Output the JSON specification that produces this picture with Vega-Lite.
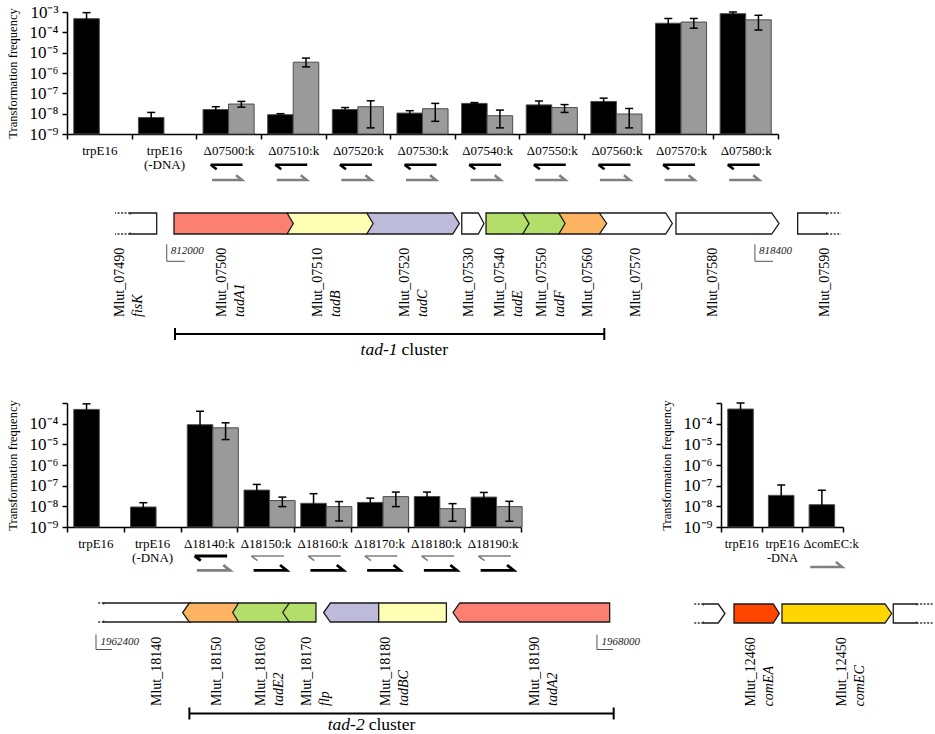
{
  "$schema": "https://vega.github.io/schema/vega-lite/v6.json",
  "background": "white",
  "padding": {"left": 6, "top": 3, "right": 0, "bottom": 0},
  "config": {
    "view": {"stroke": null},
    "font": "Liberation Serif",
    "axis": {"domainColor": "#000000", "tickColor": "#000000", "labelColor": "#000000", "titleColor": "#000000", "domainWidth": 1.5, "tickWidth": 1.5, "grid": false, "labelFont": "Liberation Serif", "titleFont": "Liberation Serif", "titleFontWeight": "normal"},
    "text": {"font": "Liberation Serif", "color": "#000000"}
  },
  "datasets": {
    "tad1Bars": [
      {"strain": "trpE16", "series": "A", "freq": 4.7e-4, "lo": 2.5e-4, "hi": 9.3e-4},
      {"strain": "trpE16|(-DNA)", "series": "A", "freq": 6.5e-9, "lo": 4e-9, "hi": 1.15e-8},
      {"strain": "Δ07500:k", "series": "A", "freq": 1.6e-8, "lo": 1.2e-8, "hi": 2.2e-8},
      {"strain": "Δ07500:k", "series": "B", "freq": 2.97e-8, "lo": 2.1e-8, "hi": 4.0e-8},
      {"strain": "Δ07510:k", "series": "A", "freq": 8.9e-9, "lo": 8e-9, "hi": 1.0e-8},
      {"strain": "Δ07510:k", "series": "B", "freq": 3.4e-6, "lo": 2.0e-6, "hi": 5.4e-6},
      {"strain": "Δ07520:k", "series": "A", "freq": 1.6e-8, "lo": 1.2e-8, "hi": 2.0e-8},
      {"strain": "Δ07520:k", "series": "B", "freq": 2.2e-8, "lo": 2.0e-9, "hi": 4.3e-8},
      {"strain": "Δ07530:k", "series": "A", "freq": 1.07e-8, "lo": 8e-9, "hi": 1.4e-8},
      {"strain": "Δ07530:k", "series": "B", "freq": 1.75e-8, "lo": 4.2e-9, "hi": 3.2e-8},
      {"strain": "Δ07540:k", "series": "A", "freq": 3.2e-8, "lo": 2.9e-8, "hi": 3.5e-8},
      {"strain": "Δ07540:k", "series": "B", "freq": 7.9e-9, "lo": 2.0e-9, "hi": 1.5e-8},
      {"strain": "Δ07550:k", "series": "A", "freq": 2.7e-8, "lo": 1.8e-8, "hi": 4.2e-8},
      {"strain": "Δ07550:k", "series": "B", "freq": 2.0e-8, "lo": 1.15e-8, "hi": 2.8e-8},
      {"strain": "Δ07560:k", "series": "A", "freq": 4.0e-8, "lo": 2.8e-8, "hi": 5.8e-8},
      {"strain": "Δ07560:k", "series": "B", "freq": 9.6e-9, "lo": 2.0e-9, "hi": 1.8e-8},
      {"strain": "Δ07570:k", "series": "A", "freq": 2.8e-4, "lo": 1.6e-4, "hi": 4.8e-4},
      {"strain": "Δ07570:k", "series": "B", "freq": 3.2e-4, "lo": 1.6e-4, "hi": 4.8e-4},
      {"strain": "Δ07580:k", "series": "A", "freq": 8.3e-4, "lo": 6.9e-4, "hi": 1.0e-3},
      {"strain": "Δ07580:k", "series": "B", "freq": 4.1e-4, "lo": 1.3e-4, "hi": 6.9e-4}
    ],
    "tad1Primers": [
      {"strain": "Δ07500:k", "primer": "up", "tone": "dark"}, {"strain": "Δ07500:k", "primer": "down", "tone": "light"},
      {"strain": "Δ07510:k", "primer": "up", "tone": "dark"}, {"strain": "Δ07510:k", "primer": "down", "tone": "light"},
      {"strain": "Δ07520:k", "primer": "up", "tone": "dark"}, {"strain": "Δ07520:k", "primer": "down", "tone": "light"},
      {"strain": "Δ07530:k", "primer": "up", "tone": "dark"}, {"strain": "Δ07530:k", "primer": "down", "tone": "light"},
      {"strain": "Δ07540:k", "primer": "up", "tone": "dark"}, {"strain": "Δ07540:k", "primer": "down", "tone": "light"},
      {"strain": "Δ07550:k", "primer": "up", "tone": "dark"}, {"strain": "Δ07550:k", "primer": "down", "tone": "light"},
      {"strain": "Δ07560:k", "primer": "up", "tone": "dark"}, {"strain": "Δ07560:k", "primer": "down", "tone": "light"},
      {"strain": "Δ07570:k", "primer": "up", "tone": "dark"}, {"strain": "Δ07570:k", "primer": "down", "tone": "light"},
      {"strain": "Δ07580:k", "primer": "up", "tone": "dark"}, {"strain": "Δ07580:k", "primer": "down", "tone": "light"}
    ],
    "tad2Bars": [
      {"strain": "trpE16", "series": "A", "freq": 4.9e-4, "lo": 2.6e-4, "hi": 9.1e-4},
      {"strain": "trpE16|(-DNA)", "series": "A", "freq": 9.3e-9, "lo": 6e-9, "hi": 1.5e-8},
      {"strain": "Δ18140:k", "series": "A", "freq": 8.9e-5, "lo": 2e-5, "hi": 4.0e-4},
      {"strain": "Δ18140:k", "series": "B", "freq": 6.3e-5, "lo": 1.7e-5, "hi": 1.1e-4},
      {"strain": "Δ18150:k", "series": "A", "freq": 6.1e-8, "lo": 3e-8, "hi": 1.15e-7},
      {"strain": "Δ18150:k", "series": "B", "freq": 1.9e-8, "lo": 9.7e-9, "hi": 2.8e-8},
      {"strain": "Δ18160:k", "series": "A", "freq": 1.4e-8, "lo": 5e-9, "hi": 4.1e-8},
      {"strain": "Δ18160:k", "series": "B", "freq": 9.7e-9, "lo": 1.95e-9, "hi": 1.7e-8},
      {"strain": "Δ18170:k", "series": "A", "freq": 1.55e-8, "lo": 1e-8, "hi": 2.5e-8},
      {"strain": "Δ18170:k", "series": "B", "freq": 2.95e-8, "lo": 9.7e-9, "hi": 4.9e-8},
      {"strain": "Δ18180:k", "series": "A", "freq": 3.0e-8, "lo": 2e-8, "hi": 4.9e-8},
      {"strain": "Δ18180:k", "series": "B", "freq": 7.7e-9, "lo": 1.9e-9, "hi": 1.35e-8},
      {"strain": "Δ18190:k", "series": "A", "freq": 2.8e-8, "lo": 1.8e-8, "hi": 4.7e-8},
      {"strain": "Δ18190:k", "series": "B", "freq": 9.7e-9, "lo": 1.9e-9, "hi": 1.75e-8}
    ],
    "tad2Primers": [
      {"strain": "Δ18140:k", "primer": "up", "tone": "dark"}, {"strain": "Δ18140:k", "primer": "down", "tone": "light"},
      {"strain": "Δ18150:k", "primer": "up", "tone": "light"}, {"strain": "Δ18150:k", "primer": "down", "tone": "dark"},
      {"strain": "Δ18160:k", "primer": "up", "tone": "light"}, {"strain": "Δ18160:k", "primer": "down", "tone": "dark"},
      {"strain": "Δ18170:k", "primer": "up", "tone": "light"}, {"strain": "Δ18170:k", "primer": "down", "tone": "dark"},
      {"strain": "Δ18180:k", "primer": "up", "tone": "light"}, {"strain": "Δ18180:k", "primer": "down", "tone": "dark"},
      {"strain": "Δ18190:k", "primer": "up", "tone": "light"}, {"strain": "Δ18190:k", "primer": "down", "tone": "dark"}
    ],
    "comBars": [
      {"strain": "trpE16", "series": "A", "freq": 5.1e-4, "lo": 2.5e-4, "hi": 1.0e-3},
      {"strain": "trpE16|-DNA", "series": "A", "freq": 3.4e-8, "lo": 1e-8, "hi": 1.07e-7},
      {"strain": "ΔcomEC:k", "series": "A", "freq": 1.2e-8, "lo": 4e-9, "hi": 6.0e-8}
    ],
    "comPrimers": [
      {"strain": "ΔcomEC:k", "primer": "down", "tone": "light"}
    ],
    "topShapes": [
      {"shape": "Mlut_07590", "pos": 818865, "lo": -1, "hi": 1}, {"shape": "Mlut_07590", "pos": 819181, "lo": -1, "hi": 1},
      {"shape": "Mlut_07580", "pos": 817541, "lo": -1, "hi": 1}, {"shape": "Mlut_07580", "pos": 818582, "lo": -1, "hi": 1}, {"shape": "Mlut_07580", "pos": 818662, "lo": 0, "hi": 0},
      {"shape": "Mlut_07570", "pos": 816707, "lo": -1, "hi": 1}, {"shape": "Mlut_07570", "pos": 817429, "lo": -1, "hi": 1}, {"shape": "Mlut_07570", "pos": 817501, "lo": 0, "hi": 0},
      {"shape": "Mlut_07560", "pos": 816265, "lo": -1, "hi": 1}, {"shape": "Mlut_07560", "pos": 816707, "lo": -1, "hi": 1}, {"shape": "Mlut_07560", "pos": 816787, "lo": 0, "hi": 0},
      {"shape": "Mlut_07550", "pos": 815873, "lo": -1, "hi": 1}, {"shape": "Mlut_07550", "pos": 816265, "lo": -1, "hi": 1}, {"shape": "Mlut_07550", "pos": 816334, "lo": 0, "hi": 0},
      {"shape": "Mlut_07540", "pos": 815474, "lo": -1, "hi": 1}, {"shape": "Mlut_07540", "pos": 815873, "lo": -1, "hi": 1}, {"shape": "Mlut_07540", "pos": 815942, "lo": 0, "hi": 0},
      {"shape": "Mlut_07530", "pos": 815210, "lo": -1, "hi": 1}, {"shape": "Mlut_07530", "pos": 815390, "lo": -1, "hi": 1}, {"shape": "Mlut_07530", "pos": 815452, "lo": 0, "hi": 0},
      {"shape": "Mlut_07520", "pos": 814176, "lo": -1, "hi": 1}, {"shape": "Mlut_07520", "pos": 815112, "lo": -1, "hi": 1}, {"shape": "Mlut_07520", "pos": 815184, "lo": 0, "hi": 0},
      {"shape": "Mlut_07510", "pos": 813309, "lo": -1, "hi": 1}, {"shape": "Mlut_07510", "pos": 814176, "lo": -1, "hi": 1}, {"shape": "Mlut_07510", "pos": 814245, "lo": 0, "hi": 0},
      {"shape": "Mlut_07500", "pos": 812079, "lo": -1, "hi": 1}, {"shape": "Mlut_07500", "pos": 813309, "lo": -1, "hi": 1}, {"shape": "Mlut_07500", "pos": 813377, "lo": 0, "hi": 0},
      {"shape": "Mlut_07490", "pos": 811601, "lo": -1, "hi": 1}, {"shape": "Mlut_07490", "pos": 811891, "lo": -1, "hi": 1}
    ],
    "topPartial": [
      {"shape": "Mlut_07490", "edge": 811601, "dotEnd": 811437},
      {"shape": "Mlut_07590", "edge": 819181, "dotEnd": 819336}
    ],
    "topLabels": [
      {"name": "Mlut_07490", "sym": "fisK", "pos": 811492},
      {"name": "Mlut_07500", "sym": "tadA1", "pos": 812598},
      {"name": "Mlut_07510", "sym": "tadB", "pos": 813649},
      {"name": "Mlut_07520", "sym": "tadC", "pos": 814593},
      {"name": "Mlut_07530", "sym": "", "pos": 815292},
      {"name": "Mlut_07540", "sym": "tadE", "pos": 815626},
      {"name": "Mlut_07550", "sym": "tadF", "pos": 816080},
      {"name": "Mlut_07560", "sym": "", "pos": 816580},
      {"name": "Mlut_07570", "sym": "", "pos": 817106},
      {"name": "Mlut_07580", "sym": "", "pos": 817947},
      {"name": "Mlut_07590", "sym": "", "pos": 819162}
    ],
    "topMarks": [{"coord": 812000}, {"coord": 818400}],
    "topCluster": [{"name": "tad-1", "start": 812090, "end": 816761, "labelPos": 814533}],
    "midShapes": [
      {"shape": "Mlut_18140", "pos": 1962486, "lo": -1, "hi": 1}, {"shape": "Mlut_18140", "pos": 1963455, "lo": -1, "hi": 1}, {"shape": "Mlut_18140", "pos": 1963529, "lo": 0, "hi": 0},
      {"shape": "Mlut_18150", "pos": 1963369, "lo": 0, "hi": 0}, {"shape": "Mlut_18150", "pos": 1963444, "lo": -1, "hi": 1}, {"shape": "Mlut_18150", "pos": 1963987, "lo": -1, "hi": 1},
      {"shape": "Mlut_18160", "pos": 1963928, "lo": 0, "hi": 0}, {"shape": "Mlut_18160", "pos": 1963995, "lo": -1, "hi": 1}, {"shape": "Mlut_18160", "pos": 1964554, "lo": -1, "hi": 1},
      {"shape": "Mlut_18170", "pos": 1964487, "lo": 0, "hi": 0}, {"shape": "Mlut_18170", "pos": 1964562, "lo": -1, "hi": 1}, {"shape": "Mlut_18170", "pos": 1964859, "lo": -1, "hi": 1},
      {"shape": "Mlut_18180a", "pos": 1964945, "lo": 0, "hi": 0}, {"shape": "Mlut_18180a", "pos": 1965020, "lo": -1, "hi": 1}, {"shape": "Mlut_18180a", "pos": 1965560, "lo": -1, "hi": 1},
      {"shape": "Mlut_18180b", "pos": 1965560, "lo": -1, "hi": 1}, {"shape": "Mlut_18180b", "pos": 1966317, "lo": -1, "hi": 1},
      {"shape": "Mlut_18190", "pos": 1966391, "lo": 0, "hi": 0}, {"shape": "Mlut_18190", "pos": 1966466, "lo": -1, "hi": 1}, {"shape": "Mlut_18190", "pos": 1968142, "lo": -1, "hi": 1}
    ],
    "midPartial": [{"shape": "Mlut_18140", "edge": 1962486, "dotEnd": 1962411}],
    "midLabels": [
      {"name": "Mlut_18140", "sym": "", "pos": 1963082},
      {"name": "Mlut_18150", "sym": "", "pos": 1963753},
      {"name": "Mlut_18160", "sym": "tadE2", "pos": 1964249},
      {"name": "Mlut_18170", "sym": "flp", "pos": 1964759},
      {"name": "Mlut_18180", "sym": "tadBC", "pos": 1965642},
      {"name": "Mlut_18190", "sym": "tadA2", "pos": 1967304}
    ],
    "midMarks": [{"coord": 1962400}, {"coord": 1968000}],
    "midCluster": [{"name": "tad-2", "start": 1963444, "end": 1968187, "labelPos": 1965426}],
    "comShapes": [
      {"shape": "Mlut_12470", "pos": 1600110, "lo": -1, "hi": 1}, {"shape": "Mlut_12470", "pos": 1600275, "lo": -1, "hi": 1}, {"shape": "Mlut_12470", "pos": 1600349, "lo": 0, "hi": 0},
      {"shape": "Mlut_12460", "pos": 1600448, "lo": -1, "hi": 1}, {"shape": "Mlut_12460", "pos": 1600880, "lo": -1, "hi": 1}, {"shape": "Mlut_12460", "pos": 1600946, "lo": 0, "hi": 0},
      {"shape": "Mlut_12450", "pos": 1600976, "lo": -1, "hi": 1}, {"shape": "Mlut_12450", "pos": 1602109, "lo": -1, "hi": 1}, {"shape": "Mlut_12450", "pos": 1602182, "lo": 0, "hi": 0},
      {"shape": "Mlut_12440", "pos": 1602200, "lo": -1, "hi": 1}, {"shape": "Mlut_12440", "pos": 1602457, "lo": -1, "hi": 1}
    ],
    "comPartial": [
      {"shape": "Mlut_12470", "edge": 1600110, "dotEnd": 1600000},
      {"shape": "Mlut_12440", "edge": 1602457, "dotEnd": 1602640}
    ],
    "comLabels": [
      {"name": "Mlut_12460", "sym": "comEA", "pos": 1600631},
      {"name": "Mlut_12450", "sym": "comEC", "pos": 1601632}
    ]
  },
  "resolve": {"scale": {"fill": "independent", "stroke": "independent"}},
  "vconcat": [
    {
      "spacing": 79,
      "bounds": "flush",
      "resolve": {"scale": {"fill": "independent", "stroke": "independent"}},
      "vconcat": [
        {
          "width": 711,
          "height": 122,
          "encoding": {
            "x": {"field": "strain", "type": "nominal", "sort": null,
              "scale": {"domain": ["trpE16", "trpE16|(-DNA)", "Δ07500:k", "Δ07510:k", "Δ07520:k", "Δ07530:k", "Δ07540:k", "Δ07550:k", "Δ07560:k", "Δ07570:k", "Δ07580:k"], "paddingInner": 0, "paddingOuter": 0},
              "axis": {"title": null, "tickBand": "extent", "labelAngle": 0, "labelFontSize": 13, "labelExpr": "split(datum.label, '|')", "labelLineHeight": 14, "tickSize": 5, "labelPadding": 5, "labelBaseline": "top"}}
          },
          "layer": [
            {
              "data": {"name": "tad1Bars"},
              "mark": {"type": "bar", "stroke": "#4d4d4d", "strokeWidth": 1},
              "encoding": {
                "xOffset": {"field": "series", "type": "nominal", "scale": {"domain": ["A", "B"], "paddingInner": 0, "paddingOuter": 0.265}},
                "y": {"field": "freq", "type": "quantitative", "scale": {"type": "log", "domain": [1e-9, 1e-3], "nice": false},
                  "axis": {"values": [1e-9, 1e-8, 1e-7, 1e-6, 1e-5, 1e-4, 1e-3], "title": "Transformation frequency", "titleFontSize": 12.5, "labelFontSize": 17, "tickSize": 5, "labelPadding": 4, "titlePadding": 10,
                    "labelExpr": "datum.value < 2e-9 ? '10⁻⁹' : datum.value < 2e-8 ? '10⁻⁸' : datum.value < 2e-7 ? '10⁻⁷' : datum.value < 2e-6 ? '10⁻⁶' : datum.value < 2e-5 ? '10⁻⁵' : datum.value < 2e-4 ? '10⁻⁴' : '10⁻³'"}},
                "y2": {"datum": 1e-9},
                "fill": {"field": "series", "type": "nominal", "scale": {"domain": ["A", "B"], "range": ["#000000", "#9a9a9a"]}, "legend": null}
              }
            },
            {
              "data": {"name": "tad1Bars"},
              "mark": {"type": "rule", "color": "#000000", "strokeWidth": 1.5},
              "encoding": {
                "xOffset": {"field": "series", "type": "nominal", "scale": {"domain": ["A", "B"], "paddingInner": 0, "paddingOuter": 0.265}},
                "y": {"field": "lo", "type": "quantitative", "scale": {"type": "log", "domain": [1e-9, 1e-3], "nice": false}},
                "y2": {"field": "hi"}
              }
            },
            {
              "data": {"name": "tad1Bars"},
              "mark": {"type": "tick", "color": "#000000", "thickness": 1.5, "size": 8, "opacity": 1},
              "encoding": {
                "xOffset": {"field": "series", "type": "nominal", "scale": {"domain": ["A", "B"], "paddingInner": 0, "paddingOuter": 0.265}},
                "y": {"field": "hi", "type": "quantitative", "scale": {"type": "log", "domain": [1e-9, 1e-3], "nice": false}}
              }
            },
            {
              "data": {"name": "tad1Bars"},
              "mark": {"type": "tick", "color": "#000000", "thickness": 1.5, "size": 8, "opacity": 1},
              "encoding": {
                "xOffset": {"field": "series", "type": "nominal", "scale": {"domain": ["A", "B"], "paddingInner": 0, "paddingOuter": 0.265}},
                "y": {"field": "lo", "type": "quantitative", "scale": {"type": "log", "domain": [1e-9, 1e-3], "nice": false}}
              }
            },
            {
              "data": {"name": "tad1Primers"},
              "transform": [{"filter": "datum.primer === 'up'"}],
              "mark": {"type": "point", "shape": "M-1,0L1,0M-1,0L-0.62,0.28", "size": 1024, "filled": false, "strokeWidth": 2.6, "opacity": 1, "xOffset": -2, "yOffset": 30.7},
              "encoding": {
                "y": {"datum": 1e-9, "type": "quantitative", "scale": {"type": "log", "domain": [1e-9, 1e-3], "nice": false}},
                "stroke": {"field": "tone", "type": "nominal", "scale": {"domain": ["dark", "light"], "range": ["#000000", "#7f7f7f"]}, "legend": null}
              }
            },
            {
              "data": {"name": "tad1Primers"},
              "transform": [{"filter": "datum.primer === 'down'"}],
              "mark": {"type": "point", "shape": "M-1,0L1,0L0.6,-0.32", "size": 900, "filled": false, "strokeWidth": 2.5, "opacity": 1, "xOffset": -1.5, "yOffset": 46},
              "encoding": {
                "y": {"datum": 1e-9, "type": "quantitative", "scale": {"type": "log", "domain": [1e-9, 1e-3], "nice": false}},
                "stroke": {"field": "tone", "type": "nominal", "scale": {"domain": ["dark", "light"], "range": ["#000000", "#7f7f7f"]}, "legend": null}
              }
            }
          ]
        },
        {
          "width": 711,
          "height": 21,
          "layer": [
            {
              "data": {"name": "topShapes"},
              "mark": {"type": "area", "orient": "vertical", "stroke": "#1a1a1a", "strokeWidth": 1.3, "strokeJoin": "miter", "opacity": 1},
              "encoding": {
                "x": {"field": "pos", "type": "quantitative", "scale": {"domain": [810915, 818651], "nice": false, "zero": false}, "axis": null},
                "y": {"field": "lo", "type": "quantitative", "scale": {"domain": [-1, 1], "nice": false, "zero": false}, "axis": null},
                "y2": {"field": "hi"},
                "detail": {"field": "shape"},
                "fill": {"field": "shape", "type": "nominal", "legend": null,
                  "scale": {"domain": ["Mlut_07490", "Mlut_07500", "Mlut_07510", "Mlut_07520", "Mlut_07530", "Mlut_07540", "Mlut_07550", "Mlut_07560", "Mlut_07570", "Mlut_07580", "Mlut_07590"],
                    "range": ["#ffffff", "#fb8072", "#ffffb3", "#bebada", "#ffffff", "#b3de69", "#b3de69", "#fdb462", "#ffffff", "#ffffff", "#ffffff"]}}
              }
            },
            {
              "data": {"name": "topPartial"},
              "mark": {"type": "rule", "color": "#ffffff", "strokeWidth": 3},
              "encoding": {
                "x": {"field": "edge", "type": "quantitative", "scale": {"domain": [810915, 818651], "nice": false, "zero": false}, "axis": null},
                "y": {"datum": -0.85, "type": "quantitative", "scale": {"domain": [-1, 1], "nice": false, "zero": false}, "axis": null},
                "y2": {"datum": 0.85}
              }
            },
            {
              "data": {"name": "topPartial"},
              "mark": {"type": "rule", "color": "#333333", "strokeWidth": 1.3, "strokeDash": [2, 1.5]},
              "encoding": {
                "x": {"field": "edge", "type": "quantitative", "scale": {"domain": [810915, 818651], "nice": false, "zero": false}, "axis": null},
                "x2": {"field": "dotEnd"},
                "y": {"datum": 1, "type": "quantitative", "scale": {"domain": [-1, 1], "nice": false, "zero": false}, "axis": null}
              }
            },
            {
              "data": {"name": "topPartial"},
              "mark": {"type": "rule", "color": "#333333", "strokeWidth": 1.3, "strokeDash": [2, 1.5]},
              "encoding": {
                "x": {"field": "edge", "type": "quantitative", "scale": {"domain": [810915, 818651], "nice": false, "zero": false}, "axis": null},
                "x2": {"field": "dotEnd"},
                "y": {"datum": -1, "type": "quantitative", "scale": {"domain": [-1, 1], "nice": false, "zero": false}, "axis": null}
              }
            },
            {
              "data": {"name": "topLabels"},
              "mark": {"type": "text", "angle": 270, "align": "left", "baseline": "middle", "dx": -93.5, "fontSize": 14},
              "encoding": {
                "x": {"field": "pos", "type": "quantitative", "scale": {"domain": [810915, 818651], "nice": false, "zero": false}, "axis": null},
                "y": {"datum": 0, "type": "quantitative", "scale": {"domain": [-1, 1], "nice": false, "zero": false}, "axis": null},
                "text": {"field": "name"}
              }
            },
            {
              "data": {"name": "topLabels"},
              "mark": {"type": "text", "angle": 270, "align": "left", "baseline": "middle", "dx": -93.5, "dy": 18, "fontSize": 14, "fontStyle": "italic"},
              "encoding": {
                "x": {"field": "pos", "type": "quantitative", "scale": {"domain": [810915, 818651], "nice": false, "zero": false}, "axis": null},
                "y": {"datum": 0, "type": "quantitative", "scale": {"domain": [-1, 1], "nice": false, "zero": false}, "axis": null},
                "text": {"field": "sym"}
              }
            },
            {
              "data": {"name": "topMarks"},
              "mark": {"type": "rule", "color": "#555555", "strokeWidth": 1, "yOffset": 20.8, "y2Offset": 37.8},
              "encoding": {
                "x": {"field": "coord", "type": "quantitative", "scale": {"domain": [810915, 818651], "nice": false, "zero": false}, "axis": null},
                "y": {"datum": 0, "type": "quantitative", "scale": {"domain": [-1, 1], "nice": false, "zero": false}, "axis": null},
                "y2": {"datum": 0}
              }
            },
            {
              "data": {"name": "topMarks"},
              "mark": {"type": "rule", "color": "#555555", "strokeWidth": 1, "yOffset": 37.8, "x2Offset": 18},
              "encoding": {
                "x": {"field": "coord", "type": "quantitative", "scale": {"domain": [810915, 818651], "nice": false, "zero": false}, "axis": null},
                "x2": {"field": "coord"},
                "y": {"datum": 0, "type": "quantitative", "scale": {"domain": [-1, 1], "nice": false, "zero": false}, "axis": null}
              }
            },
            {
              "data": {"name": "topMarks"},
              "mark": {"type": "text", "align": "left", "baseline": "middle", "dx": 4, "dy": 27, "fontSize": 11, "fontStyle": "italic", "color": "#222222"},
              "encoding": {
                "x": {"field": "coord", "type": "quantitative", "scale": {"domain": [810915, 818651], "nice": false, "zero": false}, "axis": null},
                "y": {"datum": 0, "type": "quantitative", "scale": {"domain": [-1, 1], "nice": false, "zero": false}, "axis": null},
                "text": {"field": "coord", "type": "quantitative", "format": "d"}
              }
            },
            {
              "data": {"name": "topCluster"},
              "mark": {"type": "rule", "color": "#000000", "strokeWidth": 2, "yOffset": 110.5},
              "encoding": {
                "x": {"field": "start", "type": "quantitative", "scale": {"domain": [810915, 818651], "nice": false, "zero": false}, "axis": null},
                "x2": {"field": "end"},
                "y": {"datum": 0, "type": "quantitative", "scale": {"domain": [-1, 1], "nice": false, "zero": false}, "axis": null}
              }
            },
            {
              "data": {"name": "topCluster"},
              "mark": {"type": "rule", "color": "#000000", "strokeWidth": 2, "yOffset": 104.5, "y2Offset": 116.5},
              "encoding": {
                "x": {"field": "start", "type": "quantitative", "scale": {"domain": [810915, 818651], "nice": false, "zero": false}, "axis": null},
                "y": {"datum": 0, "type": "quantitative", "scale": {"domain": [-1, 1], "nice": false, "zero": false}, "axis": null},
                "y2": {"datum": 0}
              }
            },
            {
              "data": {"name": "topCluster"},
              "mark": {"type": "rule", "color": "#000000", "strokeWidth": 2, "yOffset": 104.5, "y2Offset": 116.5},
              "encoding": {
                "x": {"field": "end", "type": "quantitative", "scale": {"domain": [810915, 818651], "nice": false, "zero": false}, "axis": null},
                "y": {"datum": 0, "type": "quantitative", "scale": {"domain": [-1, 1], "nice": false, "zero": false}, "axis": null},
                "y2": {"datum": 0}
              }
            },
            {
              "data": {"name": "topCluster"},
              "mark": {"type": "text", "align": "right", "baseline": "middle", "dx": -2, "dy": 126, "fontSize": 17.5, "fontStyle": "italic"},
              "encoding": {
                "x": {"field": "labelPos", "type": "quantitative", "scale": {"domain": [810915, 818651], "nice": false, "zero": false}, "axis": null},
                "y": {"datum": 0, "type": "quantitative", "scale": {"domain": [-1, 1], "nice": false, "zero": false}, "axis": null},
                "text": {"field": "name"}
              }
            },
            {
              "data": {"name": "topCluster"},
              "mark": {"type": "text", "align": "left", "baseline": "middle", "dx": 2, "dy": 126, "fontSize": 17.5},
              "encoding": {
                "x": {"field": "labelPos", "type": "quantitative", "scale": {"domain": [810915, 818651], "nice": false, "zero": false}, "axis": null},
                "y": {"datum": 0, "type": "quantitative", "scale": {"domain": [-1, 1], "nice": false, "zero": false}, "axis": null},
                "text": {"value": "cluster"}
              }
            }
          ]
        }
      ]
    },
    {
      "spacing": 20,
      "bounds": "full",
      "resolve": {"scale": {"fill": "independent", "stroke": "independent"}},
      "hconcat": [
        {
          "spacing": 76,
          "bounds": "flush",
          "resolve": {"scale": {"fill": "independent", "stroke": "independent"}},
          "vconcat": [
            {
              "width": 454,
              "height": 124,
              "encoding": {
                "x": {"field": "strain", "type": "nominal", "sort": null,
                  "scale": {"domain": ["trpE16", "trpE16|(-DNA)", "Δ18140:k", "Δ18150:k", "Δ18160:k", "Δ18170:k", "Δ18180:k", "Δ18190:k"], "paddingInner": 0, "paddingOuter": 0},
                  "axis": {"title": null, "tickBand": "extent", "labelAngle": 0, "labelFontSize": 13, "labelExpr": "split(datum.label, '|')", "labelLineHeight": 14, "tickSize": 5, "labelPadding": 5, "labelBaseline": "top"}}
              },
              "layer": [
                {
                  "data": {"name": "tad2Bars"},
                  "mark": {"type": "bar", "stroke": "#4d4d4d", "strokeWidth": 1},
                  "encoding": {
                    "xOffset": {"field": "series", "type": "nominal", "scale": {"domain": ["A", "B"], "paddingInner": 0, "paddingOuter": 0.235}},
                    "y": {"field": "freq", "type": "quantitative", "scale": {"type": "log", "domain": [1e-9, 1e-3], "nice": false},
                      "axis": {"values": [1e-9, 1e-8, 1e-7, 1e-6, 1e-5, 1e-4, 1e-3], "title": "Transformation frequency", "titleFontSize": 12.5, "labelFontSize": 17, "tickSize": 5, "labelPadding": 4, "titlePadding": 10,
                        "labelExpr": "datum.value > 5e-4 ? '' : datum.value < 2e-9 ? '10⁻⁹' : datum.value < 2e-8 ? '10⁻⁸' : datum.value < 2e-7 ? '10⁻⁷' : datum.value < 2e-6 ? '10⁻⁶' : datum.value < 2e-5 ? '10⁻⁵' : '10⁻⁴'"}},
                    "y2": {"datum": 1e-9},
                    "fill": {"field": "series", "type": "nominal", "scale": {"domain": ["A", "B"], "range": ["#000000", "#9a9a9a"]}, "legend": null}
                  }
                },
                {
                  "data": {"name": "tad2Bars"},
                  "mark": {"type": "rule", "color": "#000000", "strokeWidth": 1.5},
                  "encoding": {
                    "xOffset": {"field": "series", "type": "nominal", "scale": {"domain": ["A", "B"], "paddingInner": 0, "paddingOuter": 0.235}},
                    "y": {"field": "lo", "type": "quantitative", "scale": {"type": "log", "domain": [1e-9, 1e-3], "nice": false}},
                    "y2": {"field": "hi"}
                  }
                },
                {
                  "data": {"name": "tad2Bars"},
                  "mark": {"type": "tick", "color": "#000000", "thickness": 1.5, "size": 8, "opacity": 1},
                  "encoding": {
                    "xOffset": {"field": "series", "type": "nominal", "scale": {"domain": ["A", "B"], "paddingInner": 0, "paddingOuter": 0.235}},
                    "y": {"field": "hi", "type": "quantitative", "scale": {"type": "log", "domain": [1e-9, 1e-3], "nice": false}}
                  }
                },
                {
                  "data": {"name": "tad2Bars"},
                  "mark": {"type": "tick", "color": "#000000", "thickness": 1.5, "size": 8, "opacity": 1},
                  "encoding": {
                    "xOffset": {"field": "series", "type": "nominal", "scale": {"domain": ["A", "B"], "paddingInner": 0, "paddingOuter": 0.235}},
                    "y": {"field": "lo", "type": "quantitative", "scale": {"type": "log", "domain": [1e-9, 1e-3], "nice": false}}
                  }
                },
                {
                  "data": {"name": "tad2Primers"},
                  "transform": [{"filter": "datum.primer === 'up'"}],
                  "mark": {"type": "point", "shape": "M-1,0L1,0M-1,0L-0.62,0.28", "size": 1056, "filled": false, "opacity": 1, "xOffset": 2, "yOffset": 29},
                  "encoding": {
                    "y": {"datum": 1e-9, "type": "quantitative", "scale": {"type": "log", "domain": [1e-9, 1e-3], "nice": false}},
                    "stroke": {"field": "tone", "type": "nominal", "scale": {"domain": ["dark", "light"], "range": ["#000000", "#7f7f7f"]}, "legend": null},
                    "strokeWidth": {"condition": {"test": "datum.tone === 'light'", "value": 1.6}, "value": 2.8}
                  }
                },
                {
                  "data": {"name": "tad2Primers"},
                  "transform": [{"filter": "datum.primer === 'down'"}],
                  "mark": {"type": "point", "shape": "M-1,0L1,0L0.6,-0.32", "size": 1089, "filled": false, "strokeWidth": 2.8, "opacity": 1, "xOffset": 4.5, "yOffset": 43.3},
                  "encoding": {
                    "y": {"datum": 1e-9, "type": "quantitative", "scale": {"type": "log", "domain": [1e-9, 1e-3], "nice": false}},
                    "stroke": {"field": "tone", "type": "nominal", "scale": {"domain": ["dark", "light"], "range": ["#000000", "#7f7f7f"]}, "legend": null}
                  }
                }
              ]
            },
            {
              "width": 454,
              "height": 19,
              "layer": [
                {
                  "data": {"name": "midShapes"},
                  "mark": {"type": "area", "orient": "vertical", "stroke": "#1a1a1a", "strokeWidth": 1.3, "strokeJoin": "miter", "opacity": 1},
                  "encoding": {
                    "x": {"field": "pos", "type": "quantitative", "scale": {"domain": [1962076, 1967151], "nice": false, "zero": false}, "axis": null},
                    "y": {"field": "lo", "type": "quantitative", "scale": {"domain": [-1, 1], "nice": false, "zero": false}, "axis": null},
                    "y2": {"field": "hi"},
                    "detail": {"field": "shape"},
                    "fill": {"field": "shape", "type": "nominal", "legend": null,
                      "scale": {"domain": ["Mlut_18140", "Mlut_18150", "Mlut_18160", "Mlut_18170", "Mlut_18180a", "Mlut_18180b", "Mlut_18190"],
                        "range": ["#ffffff", "#fdb462", "#b3de69", "#b3de69", "#bebada", "#ffffb3", "#fb8072"]}}
                  }
                },
                {
                  "data": {"name": "midPartial"},
                  "mark": {"type": "rule", "color": "#ffffff", "strokeWidth": 3},
                  "encoding": {
                    "x": {"field": "edge", "type": "quantitative", "scale": {"domain": [1962076, 1967151], "nice": false, "zero": false}, "axis": null},
                    "y": {"datum": -0.85, "type": "quantitative", "scale": {"domain": [-1, 1], "nice": false, "zero": false}, "axis": null},
                    "y2": {"datum": 0.85}
                  }
                },
                {
                  "data": {"name": "midPartial"},
                  "mark": {"type": "rule", "color": "#333333", "strokeWidth": 1.3, "strokeDash": [2, 1.5]},
                  "encoding": {
                    "x": {"field": "edge", "type": "quantitative", "scale": {"domain": [1962076, 1967151], "nice": false, "zero": false}, "axis": null},
                    "x2": {"field": "dotEnd"},
                    "y": {"datum": 1, "type": "quantitative", "scale": {"domain": [-1, 1], "nice": false, "zero": false}, "axis": null}
                  }
                },
                {
                  "data": {"name": "midPartial"},
                  "mark": {"type": "rule", "color": "#333333", "strokeWidth": 1.3, "strokeDash": [2, 1.5]},
                  "encoding": {
                    "x": {"field": "edge", "type": "quantitative", "scale": {"domain": [1962076, 1967151], "nice": false, "zero": false}, "axis": null},
                    "x2": {"field": "dotEnd"},
                    "y": {"datum": -1, "type": "quantitative", "scale": {"domain": [-1, 1], "nice": false, "zero": false}, "axis": null}
                  }
                },
                {
                  "data": {"name": "midLabels"},
                  "mark": {"type": "text", "angle": 270, "align": "left", "baseline": "middle", "dx": -93.5, "fontSize": 14},
                  "encoding": {
                    "x": {"field": "pos", "type": "quantitative", "scale": {"domain": [1962076, 1967151], "nice": false, "zero": false}, "axis": null},
                    "y": {"datum": 0, "type": "quantitative", "scale": {"domain": [-1, 1], "nice": false, "zero": false}, "axis": null},
                    "text": {"field": "name"}
                  }
                },
                {
                  "data": {"name": "midLabels"},
                  "mark": {"type": "text", "angle": 270, "align": "left", "baseline": "middle", "dx": -93.5, "dy": 18, "fontSize": 14, "fontStyle": "italic"},
                  "encoding": {
                    "x": {"field": "pos", "type": "quantitative", "scale": {"domain": [1962076, 1967151], "nice": false, "zero": false}, "axis": null},
                    "y": {"datum": 0, "type": "quantitative", "scale": {"domain": [-1, 1], "nice": false, "zero": false}, "axis": null},
                    "text": {"field": "sym"}
                  }
                },
                {
                  "data": {"name": "midMarks"},
                  "mark": {"type": "rule", "color": "#555555", "strokeWidth": 1, "yOffset": 22, "y2Offset": 37},
                  "encoding": {
                    "x": {"field": "coord", "type": "quantitative", "scale": {"domain": [1962076, 1967151], "nice": false, "zero": false}, "axis": null},
                    "y": {"datum": 0, "type": "quantitative", "scale": {"domain": [-1, 1], "nice": false, "zero": false}, "axis": null},
                    "y2": {"datum": 0}
                  }
                },
                {
                  "data": {"name": "midMarks"},
                  "mark": {"type": "rule", "color": "#555555", "strokeWidth": 1, "yOffset": 37, "x2Offset": 16},
                  "encoding": {
                    "x": {"field": "coord", "type": "quantitative", "scale": {"domain": [1962076, 1967151], "nice": false, "zero": false}, "axis": null},
                    "x2": {"field": "coord"},
                    "y": {"datum": 0, "type": "quantitative", "scale": {"domain": [-1, 1], "nice": false, "zero": false}, "axis": null}
                  }
                },
                {
                  "data": {"name": "midMarks"},
                  "mark": {"type": "text", "align": "left", "baseline": "middle", "dx": 4.5, "dy": 29.5, "fontSize": 11, "fontStyle": "italic", "color": "#222222"},
                  "encoding": {
                    "x": {"field": "coord", "type": "quantitative", "scale": {"domain": [1962076, 1967151], "nice": false, "zero": false}, "axis": null},
                    "y": {"datum": 0, "type": "quantitative", "scale": {"domain": [-1, 1], "nice": false, "zero": false}, "axis": null},
                    "text": {"field": "coord", "type": "quantitative", "format": "d"}
                  }
                },
                {
                  "data": {"name": "midCluster"},
                  "mark": {"type": "rule", "color": "#000000", "strokeWidth": 2, "yOffset": 101},
                  "encoding": {
                    "x": {"field": "start", "type": "quantitative", "scale": {"domain": [1962076, 1967151], "nice": false, "zero": false}, "axis": null},
                    "x2": {"field": "end"},
                    "y": {"datum": 0, "type": "quantitative", "scale": {"domain": [-1, 1], "nice": false, "zero": false}, "axis": null}
                  }
                },
                {
                  "data": {"name": "midCluster"},
                  "mark": {"type": "rule", "color": "#000000", "strokeWidth": 2, "yOffset": 95, "y2Offset": 107},
                  "encoding": {
                    "x": {"field": "start", "type": "quantitative", "scale": {"domain": [1962076, 1967151], "nice": false, "zero": false}, "axis": null},
                    "y": {"datum": 0, "type": "quantitative", "scale": {"domain": [-1, 1], "nice": false, "zero": false}, "axis": null},
                    "y2": {"datum": 0}
                  }
                },
                {
                  "data": {"name": "midCluster"},
                  "mark": {"type": "rule", "color": "#000000", "strokeWidth": 2, "yOffset": 95, "y2Offset": 107},
                  "encoding": {
                    "x": {"field": "end", "type": "quantitative", "scale": {"domain": [1962076, 1967151], "nice": false, "zero": false}, "axis": null},
                    "y": {"datum": 0, "type": "quantitative", "scale": {"domain": [-1, 1], "nice": false, "zero": false}, "axis": null},
                    "y2": {"datum": 0}
                  }
                },
                {
                  "data": {"name": "midCluster"},
                  "mark": {"type": "text", "align": "right", "baseline": "middle", "dx": -2, "dy": 112, "fontSize": 17.5, "fontStyle": "italic"},
                  "encoding": {
                    "x": {"field": "labelPos", "type": "quantitative", "scale": {"domain": [1962076, 1967151], "nice": false, "zero": false}, "axis": null},
                    "y": {"datum": 0, "type": "quantitative", "scale": {"domain": [-1, 1], "nice": false, "zero": false}, "axis": null},
                    "text": {"field": "name"}
                  }
                },
                {
                  "data": {"name": "midCluster"},
                  "mark": {"type": "text", "align": "left", "baseline": "middle", "dx": 2, "dy": 112, "fontSize": 17.5},
                  "encoding": {
                    "x": {"field": "labelPos", "type": "quantitative", "scale": {"domain": [1962076, 1967151], "nice": false, "zero": false}, "axis": null},
                    "y": {"datum": 0, "type": "quantitative", "scale": {"domain": [-1, 1], "nice": false, "zero": false}, "axis": null},
                    "text": {"value": "cluster"}
                  }
                }
              ]
            }
          ]
        },
        {
          "spacing": 77,
          "bounds": "flush",
          "resolve": {"scale": {"fill": "independent", "stroke": "independent"}},
          "vconcat": [
            {
              "width": 122,
              "height": 124,
              "encoding": {
                "x": {"field": "strain", "type": "nominal", "sort": null,
                  "scale": {"domain": ["trpE16", "trpE16|-DNA", "ΔcomEC:k"], "paddingInner": 0, "paddingOuter": 0},
                  "axis": {"title": null, "tickBand": "extent", "labelAngle": 0, "labelFontSize": 12.5, "labelExpr": "split(datum.label, '|')", "labelLineHeight": 14, "tickSize": 5, "labelPadding": 5, "labelBaseline": "top",
                    "labelOffset": {"condition": {"test": "datum.label === 'ΔcomEC:k'", "value": 8}, "value": 0}}}
              },
              "layer": [
                {
                  "data": {"name": "comBars"},
                  "mark": {"type": "bar", "stroke": "#4d4d4d", "strokeWidth": 1},
                  "encoding": {
                    "xOffset": {"field": "series", "type": "nominal", "scale": {"domain": ["A"], "paddingInner": 0, "paddingOuter": 0.244}},
                    "y": {"field": "freq", "type": "quantitative", "scale": {"type": "log", "domain": [1e-9, 1e-3], "nice": false},
                      "axis": {"values": [1e-9, 1e-8, 1e-7, 1e-6, 1e-5, 1e-4, 1e-3], "title": "Transformation frequency", "titleFontSize": 12.5, "labelFontSize": 17, "tickSize": 5, "labelPadding": 4, "titlePadding": 10,
                        "labelExpr": "datum.value > 5e-4 ? '' : datum.value < 2e-9 ? '10⁻⁹' : datum.value < 2e-8 ? '10⁻⁸' : datum.value < 2e-7 ? '10⁻⁷' : datum.value < 2e-6 ? '10⁻⁶' : datum.value < 2e-5 ? '10⁻⁵' : '10⁻⁴'"}},
                    "y2": {"datum": 1e-9},
                    "fill": {"field": "series", "type": "nominal", "scale": {"domain": ["A"], "range": ["#000000"]}, "legend": null}
                  }
                },
                {
                  "data": {"name": "comBars"},
                  "mark": {"type": "rule", "color": "#000000", "strokeWidth": 1.5},
                  "encoding": {
                    "xOffset": {"field": "series", "type": "nominal", "scale": {"domain": ["A"], "paddingInner": 0, "paddingOuter": 0.244}},
                    "y": {"field": "lo", "type": "quantitative", "scale": {"type": "log", "domain": [1e-9, 1e-3], "nice": false}},
                    "y2": {"field": "hi"}
                  }
                },
                {
                  "data": {"name": "comBars"},
                  "mark": {"type": "tick", "color": "#000000", "thickness": 1.5, "size": 8, "opacity": 1},
                  "encoding": {
                    "xOffset": {"field": "series", "type": "nominal", "scale": {"domain": ["A"], "paddingInner": 0, "paddingOuter": 0.244}},
                    "y": {"field": "hi", "type": "quantitative", "scale": {"type": "log", "domain": [1e-9, 1e-3], "nice": false}}
                  }
                },
                {
                  "data": {"name": "comPrimers"},
                  "mark": {"type": "point", "shape": "M-1,0L1,0L0.6,-0.32", "size": 1024, "filled": false, "strokeWidth": 2.5, "opacity": 1, "xOffset": 3.6, "yOffset": 40},
                  "encoding": {
                    "y": {"datum": 1e-9, "type": "quantitative", "scale": {"type": "log", "domain": [1e-9, 1e-3], "nice": false}},
                    "stroke": {"field": "tone", "type": "nominal", "scale": {"domain": ["dark", "light"], "range": ["#000000", "#7f7f7f"]}, "legend": null}
                  }
                }
              ]
            },
            {
              "width": 122,
              "height": 19,
              "layer": [
                {
                  "data": {"name": "comShapes"},
                  "mark": {"type": "area", "orient": "vertical", "stroke": "#1a1a1a", "strokeWidth": 1.3, "strokeJoin": "miter", "opacity": 1},
                  "encoding": {
                    "x": {"field": "pos", "type": "quantitative", "scale": {"domain": [1600305, 1601647], "nice": false, "zero": false}, "axis": null},
                    "y": {"field": "lo", "type": "quantitative", "scale": {"domain": [-1, 1], "nice": false, "zero": false}, "axis": null},
                    "y2": {"field": "hi"},
                    "detail": {"field": "shape"},
                    "fill": {"field": "shape", "type": "nominal", "legend": null,
                      "scale": {"domain": ["Mlut_12470", "Mlut_12460", "Mlut_12450", "Mlut_12440"], "range": ["#ffffff", "#ff4500", "#ffd700", "#ffffff"]}}
                  }
                },
                {
                  "data": {"name": "comPartial"},
                  "mark": {"type": "rule", "color": "#ffffff", "strokeWidth": 3},
                  "encoding": {
                    "x": {"field": "edge", "type": "quantitative", "scale": {"domain": [1600305, 1601647], "nice": false, "zero": false}, "axis": null},
                    "y": {"datum": -0.85, "type": "quantitative", "scale": {"domain": [-1, 1], "nice": false, "zero": false}, "axis": null},
                    "y2": {"datum": 0.85}
                  }
                },
                {
                  "data": {"name": "comPartial"},
                  "mark": {"type": "rule", "color": "#333333", "strokeWidth": 1.3, "strokeDash": [2, 1.5]},
                  "encoding": {
                    "x": {"field": "edge", "type": "quantitative", "scale": {"domain": [1600305, 1601647], "nice": false, "zero": false}, "axis": null},
                    "x2": {"field": "dotEnd"},
                    "y": {"datum": 1, "type": "quantitative", "scale": {"domain": [-1, 1], "nice": false, "zero": false}, "axis": null}
                  }
                },
                {
                  "data": {"name": "comPartial"},
                  "mark": {"type": "rule", "color": "#333333", "strokeWidth": 1.3, "strokeDash": [2, 1.5]},
                  "encoding": {
                    "x": {"field": "edge", "type": "quantitative", "scale": {"domain": [1600305, 1601647], "nice": false, "zero": false}, "axis": null},
                    "x2": {"field": "dotEnd"},
                    "y": {"datum": -1, "type": "quantitative", "scale": {"domain": [-1, 1], "nice": false, "zero": false}, "axis": null}
                  }
                },
                {
                  "data": {"name": "comLabels"},
                  "mark": {"type": "text", "angle": 270, "align": "left", "baseline": "middle", "dx": -93, "fontSize": 14},
                  "encoding": {
                    "x": {"field": "pos", "type": "quantitative", "scale": {"domain": [1600305, 1601647], "nice": false, "zero": false}, "axis": null},
                    "y": {"datum": 0, "type": "quantitative", "scale": {"domain": [-1, 1], "nice": false, "zero": false}, "axis": null},
                    "text": {"field": "name"}
                  }
                },
                {
                  "data": {"name": "comLabels"},
                  "mark": {"type": "text", "angle": 270, "align": "left", "baseline": "middle", "dx": -93, "dy": 18, "fontSize": 14, "fontStyle": "italic"},
                  "encoding": {
                    "x": {"field": "pos", "type": "quantitative", "scale": {"domain": [1600305, 1601647], "nice": false, "zero": false}, "axis": null},
                    "y": {"datum": 0, "type": "quantitative", "scale": {"domain": [-1, 1], "nice": false, "zero": false}, "axis": null},
                    "text": {"field": "sym"}
                  }
                }
              ]
            }
          ]
        }
      ]
    }
  ],
  "spacing": 41,
  "bounds": "full"
}
